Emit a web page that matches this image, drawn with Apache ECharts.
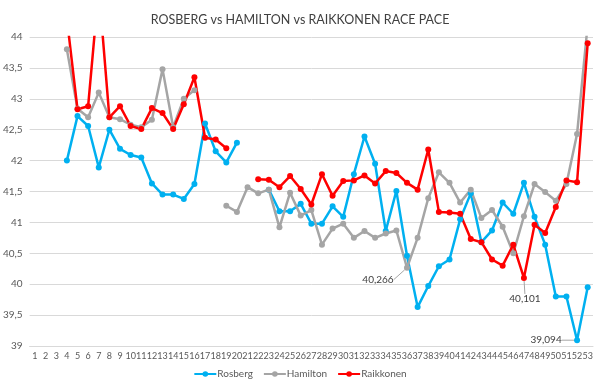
<!DOCTYPE html>
<html><head><meta charset="utf-8">
<script src="https://cdn.jsdelivr.net/npm/echarts@6/dist/echarts.min.js"></script>
<style>html,body{margin:0;padding:0;background:#fff}#c{width:600px;height:386px}</style>
</head><body><div id="c"></div>
<script>
const laps = Array.from({length:53}, (_, i) => String(i + 1));
const rosberg = [null,null,null,42.0,42.72,42.56,41.89,42.50,42.19,42.09,42.05,41.63,41.45,41.45,41.38,41.62,42.60,42.15,41.97,42.29,null,null,41.53,41.18,41.18,41.30,40.98,40.98,41.26,41.09,41.78,42.39,41.95,40.86,41.51,40.46,39.63,39.97,40.29,40.40,41.05,41.47,40.68,40.87,41.32,41.14,41.64,41.09,40.64,39.80,39.80,39.094,39.95];
const hamilton = [null,null,null,43.80,42.84,42.70,43.10,42.70,42.67,42.58,42.54,42.66,43.48,42.54,43.0,43.14,null,null,41.27,41.17,41.57,41.47,41.53,40.92,41.48,41.11,41.20,40.64,40.90,40.98,40.75,40.86,40.75,40.82,40.87,40.266,40.75,41.39,41.81,41.64,41.32,41.53,41.07,41.20,40.93,40.50,41.10,41.62,41.49,41.35,41.62,42.43,44.2];
const raikkonen = [null,null,null,44.3,42.83,42.88,44.8,42.70,42.88,42.56,42.51,42.85,42.77,42.51,42.91,43.35,42.37,42.34,42.20,null,null,41.70,41.69,41.57,41.75,41.54,41.29,41.78,41.43,41.67,41.68,41.76,41.63,41.83,41.80,41.64,41.53,42.18,41.17,41.16,41.14,40.73,40.68,40.40,40.30,40.64,40.101,40.96,40.83,41.25,41.68,41.65,43.90];
const seriesNames = ['Rosberg','Hamilton','Raikkonen'];
const seriesColors = ['#00b0f0','#a5a5a5','#ff0000'];
// labelled points: [seriesIndex, lap]
const labelled = [[1,36],[2,47],[0,52]];
const labelOffsets = {'1_35':[-29,12],'2_46':[1,21],'0_51':[-31,0]};

const fmt = v => String(v).replace('.', ',');
function mkData(arr, si){
  return arr.map((v,i)=>{
    const isL = labelled.some(l=>l[0]===si && l[1]===i+1);
    if(isL) return {value:v, label:{show:true}};
    return v;
  });
}
const allData = [rosberg, hamilton, raikkonen];
const chart = echarts.init(document.getElementById('c'));
chart.setOption({
  animation:false,
  title:{text:'ROSBERG vs HAMILTON vs RAIKKONEN RACE PACE',left:'center',top:8,
    textStyle:{fontFamily:'Lato',fontSize:12.5,fontWeight:'normal',color:'#404040'}},
  legend:{bottom:2,left:'center',itemWidth:22,itemHeight:7,itemGap:10,
    textStyle:{fontFamily:'Lato',fontSize:10,color:'#595959',padding:[0,0,0,-4]},
    data:seriesNames},
  grid:{left:29,right:7,top:37,bottom:40,containLabel:false},
  xAxis:{type:'category',data:laps,boundaryGap:true,
    axisLine:{show:true,lineStyle:{color:'#d9d9d9'}},axisTick:{show:false},
    axisLabel:{interval:0,fontFamily:'Lato',fontSize:9,color:'#595959',margin:6}},
  yAxis:{type:'value',min:39,max:44,interval:0.5,
    axisLine:{show:false},axisTick:{show:false},
    splitLine:{lineStyle:{color:'#d9d9d9',width:1}},
    axisLabel:{fontFamily:'Lato',fontSize:10,color:'#595959',margin:7,formatter:v=>fmt(v)}},
  series: allData.map((arr,si)=>({
    name:seriesNames[si],type:'line',data:mkData(arr,si),
    symbol:'circle',symbolSize:6,connectNulls:false,clip:true,
    itemStyle:{color:seriesColors[si]},
    lineStyle:{color:seriesColors[si],width:2.5},
    label:{show:false,position:'inside',formatter:p=>fmt(p.value),
      fontFamily:'Lato',fontSize:10,color:'#404040'},
    labelLine:{show:true,lineStyle:{color:'#a5a5a5',width:1}},
    labelLayout:function(p){
      const o = labelOffsets[si+'_'+p.dataIndex];
      return o ? {dx:o[0],dy:o[1]} : {};
    },
    emphasis:{disabled:true}
  }))
});
</script></body></html>
